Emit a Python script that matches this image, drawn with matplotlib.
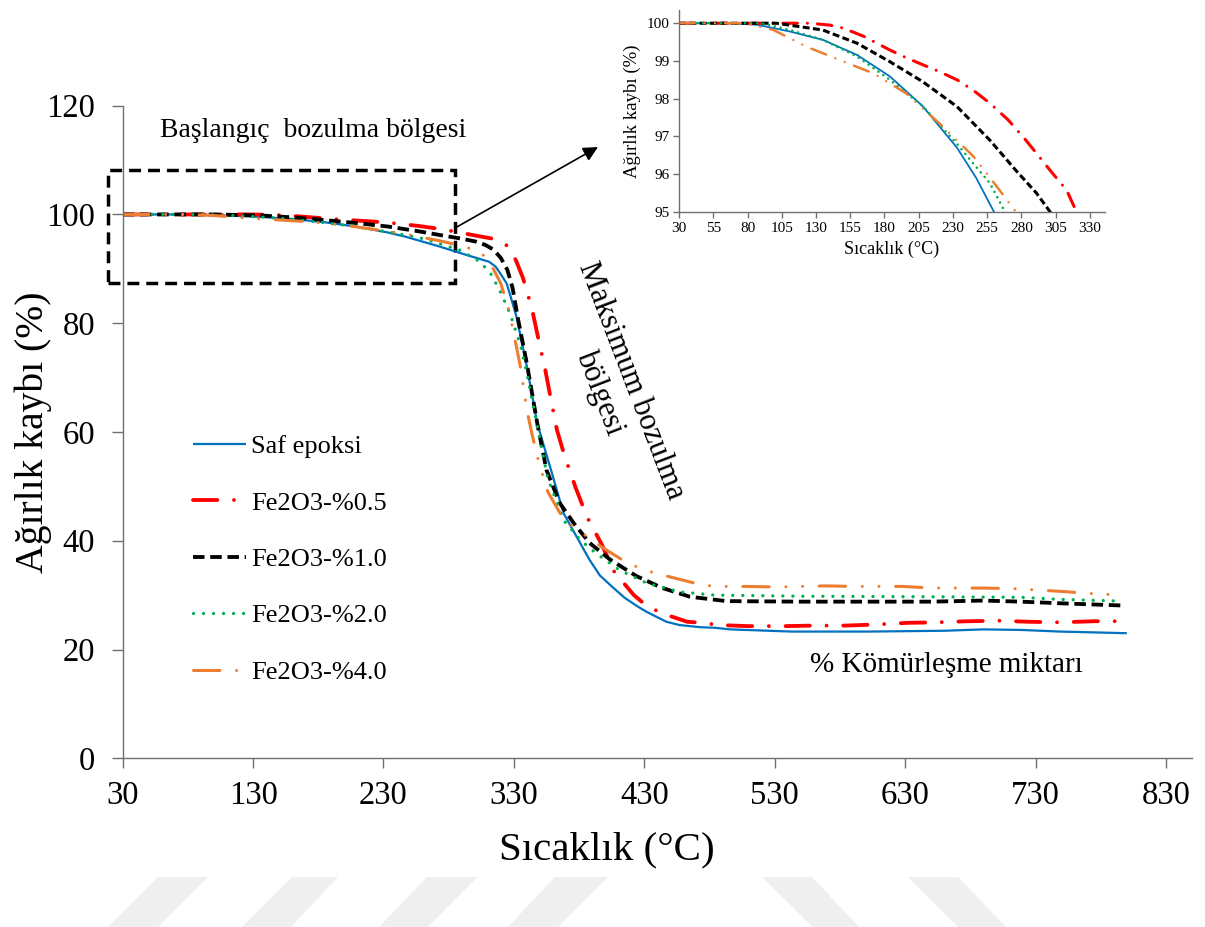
import matplotlib
matplotlib.use("Agg")
import matplotlib.pyplot as plt
from matplotlib.patches import Rectangle, Polygon

plt.rcParams["font.family"] = ["Liberation Serif", "DejaVu Serif"]
plt.rcParams["lines.scale_dashes"] = False

# TGA readings (temperature °C, weight %)
saf_T = [30, 67, 87, 111, 135, 160, 184, 208, 233, 247, 260, 273, 293, 311, 316, 320, 324.5, 328,
         332, 340, 348, 358, 368, 381, 388, 396, 406, 415, 425, 432, 447, 457, 473, 484, 496, 543,
         602, 660, 690, 719, 749, 800]
saf_W = [100, 100, 99.96, 99.78, 99.56, 99.16, 98.59, 97.8, 96.7, 95.9, 95.0, 94.1, 92.6, 91.3,
         90.4, 89.0, 87.3, 84.5, 81.2, 72.0, 61.5, 53.4, 45.1, 39.5, 36.5, 33.6, 31.4, 29.5, 27.9,
         26.9, 25.1, 24.5, 24.1, 24.0, 23.7, 23.3, 23.3, 23.45, 23.7, 23.6, 23.3, 23.0]

red_T = [30, 126, 140, 150, 165, 184, 195, 208, 220, 233, 245, 257, 270, 281, 290, 301, 313, 319,
         324, 328, 332, 337, 344, 348, 354, 358, 363, 369, 377, 386, 397, 407, 422, 431, 443, 463,
         475, 487, 510, 537, 560, 584, 608, 631, 654, 678, 702, 725, 749, 775, 797]
red_W = [100, 100, 99.95, 99.87, 99.65, 99.29, 99.1, 98.9, 98.72, 98.5, 98.22, 97.88, 97.45, 97.0,
         96.6, 96.1, 95.58, 95.1, 94.4, 93.4, 91.3, 88.3, 82.5, 78.0, 71.5, 66.5, 60.4, 55.5, 50.0,
         44.4, 39.5, 34.3, 30.0, 28.2, 26.7, 25.1, 24.9, 24.5, 24.3, 24.3, 24.4, 24.4, 24.6, 24.9,
         25.0, 25.2, 25.3, 25.1, 25.0, 25.2, 25.2]

blk_T = [30, 101, 135, 160, 184, 208, 233, 257, 276, 291, 301, 308, 314, 320, 325, 329, 333, 340,
         348, 355, 365, 376, 388, 404, 424, 444, 465, 493, 550, 600, 650, 690, 719, 749, 796]
blk_W = [100, 100, 99.82, 99.47, 98.98, 98.45, 97.79, 96.9, 96.1, 95.5, 95.0, 94.4, 93.6, 92.0,
         89.8, 86.5, 81.0, 72.5, 61.5, 53.0, 47.0, 43.2, 39.6, 36.5, 33.5, 31.3, 29.7, 28.9, 28.8,
         28.8, 28.8, 29.0, 28.8, 28.5, 28.1]

grn_T = [30, 90, 111, 135, 160, 184, 208, 233, 257, 268, 289, 304, 312, 319, 327, 335, 340, 348,
         356, 368, 381, 393, 411, 432, 457, 484, 550, 650, 719, 750, 797]
grn_W = [100, 100, 99.82, 99.56, 99.12, 98.5, 97.8, 96.8, 95.76, 95.0, 93.4, 91.3, 89.2, 86.1,
         81.8, 76.0, 70.8, 61.0, 51.5, 43.8, 40.1, 37.7, 34.6, 32.2, 30.6, 30.0, 29.8, 29.7, 29.6,
         29.2, 28.9]

org_T = [30, 79, 99, 123, 147, 172, 196, 220, 245, 264, 276, 290, 304, 312, 320, 326, 330, 335,
         340, 344, 349, 356, 368, 377, 397, 415, 427, 439, 449, 472, 484, 508, 531, 569, 593, 628,
         651, 690, 713, 749, 772, 797]
org_W = [100, 100, 99.82, 99.38, 99.03, 98.67, 98.14, 97.35, 96.47, 95.58, 95.0, 94.2, 93.2, 91.0,
         87.3, 82.5, 78.0, 72.0, 64.0, 59.5, 54.5, 49.0, 44.0, 42.3, 38.9, 36.2, 34.9, 34.0, 33.4,
         32.0, 31.6, 31.6, 31.5, 31.7, 31.6, 31.6, 31.3, 31.3, 31.2, 30.7, 30.3, 30.0]

labels = ["Saf epoksi", "Fe2O3-%0.5", "Fe2O3-%1.0", "Fe2O3-%2.0", "Fe2O3-%4.0"]
series = [(saf_T, saf_W), (red_T, red_W), (blk_T, blk_W), (grn_T, grn_W), (org_T, org_W)]

# colour, width, dash pattern (points), cap style
styles = [
    ("#0070C0", 1.6, None, "butt"),
    ("#FF0000", 2.75, [17.5, 12, 0.01, 12], "round"),
    ("#000000", 2.75, [8.3, 4.1], "butt"),
    ("#00B050", 2.4, [0.01, 7.2], "round"),
    ("#ED7D31", 2.2, [19, 12, 0.01, 12, 0.01, 12], "round"),
]


def line_kw(i, scale=1.0):
    color, lw, dashes, cap = styles[i]
    kw = dict(color=color, lw=lw * (0.8 if scale < 1 else 1.0), dash_capstyle=cap,
              solid_capstyle="butt")
    if dashes is None:
        kw["linestyle"] = "-"
    else:
        kw["linestyle"] = (0, [d * scale for d in dashes])
    return kw


fig = plt.figure(figsize=(12.05, 9.27), dpi=100)

# faint watermark stripes at the bottom
stripes = [(158, 208, 108, 158), (292, 338, 242, 291), (427, 477, 379, 428),
           (555, 608, 508, 558), (762, 812, 813, 859), (908, 958, 958, 1006)]
for tl, tr, bl, br in stripes:
    pts = [(tl / 1205, 1 - 877 / 927), (tr / 1205, 1 - 877 / 927),
           (br / 1205, 0), (bl / 1205, 0)]
    fig.add_artist(Polygon(pts, closed=True, transform=fig.transFigure,
                           facecolor="#efefef", edgecolor="none", zorder=0))

ax = fig.add_axes([0.1018, 0.182, 0.8874, 0.704])
for i, (t, w) in enumerate(series):
    ax.plot(t, w, label=labels[i], **line_kw(i))

ax.set_xlim(30, 850)
ax.set_ylim(0, 120)
ax.set_xticks(range(30, 831, 100))
ax.set_yticks(range(0, 121, 20))
for s in ["top", "right"]:
    ax.spines[s].set_visible(False)
for s in ["left", "bottom"]:
    ax.spines[s].set_color("#707070")
    ax.spines[s].set_linewidth(1.0)
ax.tick_params(axis="x", direction="out", length=7, width=1, color="#707070",
               labelsize=23.5, pad=9)
ax.tick_params(axis="y", direction="out", length=8, width=1, color="#707070",
               labelsize=23.5, pad=12)

ax.set_xlabel("Sıcaklık (°C)", fontsize=29.5)
ax.xaxis.set_label_coords(0.453, -0.112)
ax.xaxis.label.set_va("top")
ax.set_ylabel("Ağırlık kaybı (%)", fontsize=28.5)
ax.yaxis.set_label_coords(-0.066, 0.5)

leg = ax.legend(loc="upper left", bbox_to_anchor=(0.0657, 0.496), frameon=False,
                fontsize=19, handlelength=2.0, handletextpad=0.2, labelspacing=1.25,
                borderpad=0, borderaxespad=0)

# annotations
ax.add_patch(Rectangle((18.7, 87.4), 266.1, 20.8, fill=False, edgecolor="black", lw=2.5,
                       linestyle=(0, (8.6, 5.0)), clip_on=False))
ax.text(58.6, 115.5, "Başlangıç  bozulma bölgesi", fontsize=20, ha="left", va="center")
ax.annotate("", xy=(394.5, 112.4), xytext=(284.8, 97.5), annotation_clip=False,
            arrowprops=dict(arrowstyle="-|>", color="black", lw=1.2, mutation_scale=22,
                            shrinkA=0, shrinkB=0))
ax.text(408, 68.3, "Maksimum bozulma\nbölgesi", fontsize=22, rotation=-69,
        ha="center", va="center", multialignment="center", rotation_mode="anchor")
ax.text(557, 17.2, "% Kömürleşme miktarı", fontsize=21, ha="left", va="center")

# inset zoom on the initial decomposition region
ax2 = fig.add_axes([0.5635, 0.7713, 0.3535, 0.2179])
for i, (t, w) in enumerate(series):
    ax2.plot(t, w, **line_kw(i, scale=0.6))
ax2.set_xlim(30, 341)
ax2.set_ylim(95, 100.35)
ax2.set_xticks(range(30, 331, 25))
ax2.set_yticks(range(95, 101))
for s in ["top", "right"]:
    ax2.spines[s].set_visible(False)
for s in ["left", "bottom"]:
    ax2.spines[s].set_color("#707070")
    ax2.spines[s].set_linewidth(1.0)
ax2.tick_params(direction="out", length=4, width=1, color="#707070", labelsize=11, pad=3)
ax2.set_xlabel("Sıcaklık (°C)", fontsize=13, labelpad=4)
ax2.set_ylabel("Ağırlık kaybı (%)", fontsize=13.5, labelpad=4)

fig.savefig("out.png", dpi=100)
